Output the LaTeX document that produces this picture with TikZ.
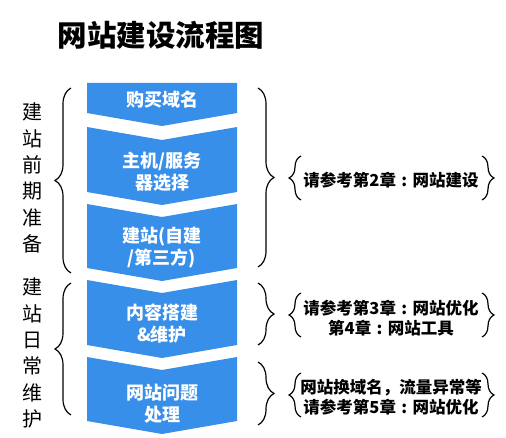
\documentclass[tikz,border=0pt]{standalone}
\usepackage{fontspec}
\newfontfamily\cjk{Noto Sans CJK SC}
\usetikzlibrary{decorations.pathreplacing}
\definecolor{flowblue}{RGB}{55,143,233}
\newcommand{\mycolon}{\makebox[1em][c]{:}}
\tikzset{
  chev/.style={fill=flowblue, draw=none},
  chevtext/.style={text=white, align=center, font=\cjk\bfseries\fontsize{18}{22}\selectfont, inner sep=0pt},
  sidetext/.style={align=center, font=\cjk\fontsize{20}{26.3}\selectfont, inner sep=0pt},
  reftext/.style={align=center, font=\cjk\bfseries\fontsize{16.5}{20.5}\selectfont, inner sep=0pt},
  bigbrace/.style={decorate, decoration={brace, amplitude=16pt, aspect=0.5}, line width=1.2pt},
  smallbrace/.style={decorate, decoration={brace, amplitude=12pt, aspect=0.5}, line width=1.2pt},
}
\begin{document}
\begin{tikzpicture}[x=1pt,y=1pt]
\useasboundingbox (0,0) rectangle (506,-438);
\fill[white] (0,0) rectangle (506,-438);

% title
\node[font=\cjk\bfseries\fontsize{29.5}{30}\selectfont, inner sep=0pt] (title) at (161,-35) {网站建设流程图};

% chevrons
\fill[chev] (87,-83) -- (237,-83) -- (237,-113) -- (162,-126) -- (87,-113) -- cycle;
\fill[chev] (87,-127) -- (162,-140) -- (237,-127) -- (237,-192) -- (162,-205) -- (87,-192) -- cycle;
\fill[chev] (87,-204) -- (162,-217) -- (237,-204) -- (237,-268) -- (162,-281) -- (87,-268) -- cycle;
\fill[chev] (87,-280) -- (162,-293) -- (237,-280) -- (237,-345) -- (162,-358) -- (87,-345) -- cycle;
\fill[chev] (87,-357) -- (162,-370) -- (237,-357) -- (237,-421) -- (162,-434) -- (87,-421) -- cycle;

\node[chevtext] (s1) at (162,-100) {购买域名};
\node[chevtext] (s2) at (162,-172) {主机/服务\\器选择};
\node[chevtext] (s3) at (162,-248) {建站(自建\\/第三方)};
\node[chevtext] (s4) at (162,-324) {内容搭建\\\&维护};
\node[chevtext] (s5) at (162,-404) {网站问题\\处理};

% left labels
\node[sidetext] (pre) at (32,-178) {建\\站\\前\\期\\准\\备};
\node[sidetext] (daily) at (32,-353) {建\\站\\日\\常\\维\\护};

% left braces
\coordinate (lb1b) at (71,-273);
\coordinate (lb1t) at (71,-88);
\coordinate (lb2b) at (71,-415);
\coordinate (lb2t) at (71,-283);
\draw[bigbrace] (lb1b) -- (lb1t);
\draw[bigbrace] (lb2b) -- (lb2t);

% right braces
\coordinate (rb1t) at (258,-88);
\coordinate (rb1b) at (258,-267);
\coordinate (rb2t) at (258,-283);
\coordinate (rb2b) at (258,-345);
\coordinate (rb3t) at (258,-362);
\coordinate (rb3b) at (258,-425);
\draw[bigbrace] (rb1t) -- (rb1b);
\draw[bigbrace] (rb2t) -- (rb2b);
\draw[bigbrace] (rb3t) -- (rb3b);

% reference texts
\node[reftext] (r1) at (391,-180) {请参考第2章\mycolon 网站建设};
\node[reftext] (r2) at (391,-318) {请参考第3章\mycolon 网站优化\\第4章\mycolon 网站工具};
\node[reftext] (r3) at (391,-397) {网站换域名，流量异常等\\请参考第5章\mycolon 网站优化};

% small braces
\draw[smallbrace] (301,-200) -- (301,-156);
\draw[smallbrace] (482,-156) -- (482,-200);
\draw[smallbrace] (301,-337) -- (301,-293);
\draw[smallbrace] (482,-293) -- (482,-337);
\draw[smallbrace] (301,-417) -- (301,-373);
\draw[smallbrace] (482,-373) -- (482,-417);
\end{tikzpicture}
\end{document}
